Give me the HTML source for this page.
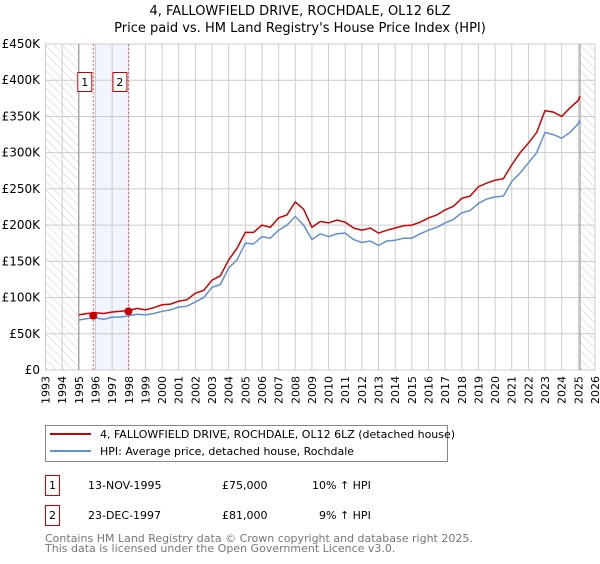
<!DOCTYPE html>
<html><head><meta charset="utf-8"><style>
body{margin:0;background:#fff;font-family:"DejaVu Sans","Liberation Sans",sans-serif;}
svg text{font-family:"DejaVu Sans","Liberation Sans",sans-serif;}
</style></head><body>
<svg id="c" width="600" height="560" viewBox="0 0 600 560" xmlns="http://www.w3.org/2000/svg">
<defs><pattern id="hatch" width="6" height="6" patternUnits="userSpaceOnUse" patternTransform="rotate(-45)"><line x1="0" y1="0" x2="0" y2="6" stroke="#ccc" stroke-width="1"/></pattern></defs>
<text x="300" y="15" text-anchor="middle" font-size="13">4, FALLOWFIELD DRIVE, ROCHDALE, OL12 6LZ</text>
<text x="300" y="32" text-anchor="middle" font-size="13">Price paid vs. HM Land Registry's House Price Index (HPI)</text>
<g id="grid"></g><g id="series"></g><g id="axes"></g>
<g>
<rect x="45.5" y="425.5" width="402" height="36" fill="#fff" stroke="#888"/>
<line x1="50" y1="434" x2="91" y2="434" stroke="#cc0000" stroke-width="2"/>
<text x="100" y="438" font-size="11">4, FALLOWFIELD DRIVE, ROCHDALE, OL12 6LZ (detached house)</text>
<line x1="50" y1="451" x2="91" y2="451" stroke="#6090d0" stroke-width="2"/>
<text x="100" y="455" font-size="11">HPI: Average price, detached house, Rochdale</text>
</g>
<g font-size="11">
<rect x="45.5" y="475.5" width="14" height="20" fill="#fff" stroke="#cc0000"/><text x="52.5" y="489" text-anchor="middle">1</text>
<text x="88" y="489">13-NOV-1995</text><text x="222" y="489">£75,000</text><text x="312" y="489">10% ↑ HPI</text>
<rect x="45.5" y="505.5" width="14" height="20" fill="#fff" stroke="#cc0000"/><text x="52.5" y="519" text-anchor="middle">2</text>
<text x="88" y="519">23-DEC-1997</text><text x="222" y="519">£81,000</text><text x="319" y="519">9% ↑ HPI</text>
</g>
<text x="45" y="542" font-size="11" fill="#777">Contains HM Land Registry data © Crown copyright and database right 2025.</text>
<text x="45" y="552" font-size="11" fill="#777">This data is licensed under the Open Government Licence v3.0.</text>
</svg>
<script>
const hpiYears=[1995,1995.5,1996,1996.5,1997,1997.5,1998,1998.5,1999,1999.5,2000,2000.5,2001,2001.5,2002,2002.5,2003,2003.5,2004,2004.5,2005,2005.5,2006,2006.5,2007,2007.5,2008,2008.5,2009,2009.5,2010,2010.5,2011,2011.5,2012,2012.5,2013,2013.5,2014,2014.5,2015,2015.5,2016,2016.5,2017,2017.5,2018,2018.5,2019,2019.5,2020,2020.5,2021,2021.5,2022,2022.5,2023,2023.5,2024,2024.5,2025,2025.1];
const hpiValues=[69,71,72,70,73,73,75,77,76,78,81,83,87,88,94,100,114,118,141,152,175,174,184,182,193,200,212,200,180,188,184,188,189,180,176,178,172,178,179,182,182,188,193,197,203,208,217,220,230,236,239,240,260,272,286,300,328,325,320,328,340,345];
const priceValues=[76,78,79,78,80,81,82,85,83,86,90,91,95,97,106,110,124,130,152,168,190,190,200,197,210,214,232,222,197,205,203,207,204,196,193,196,189,193,196,199,200,204,210,214,221,226,237,240,253,258,262,264,283,300,313,328,358,356,350,362,372,378];
const saleDates=[1995.87,1997.98];
const salePrices=[75,81];
const yTicks=[0,50,100,150,200,250,300,350,400,450];
const yTickLabels=["£0","£50K","£100K","£150K","£200K","£250K","£300K","£350K","£400K","£450K"];
const ns="http://www.w3.org/2000/svg";
const X=y=>45.5+(y-1993)*(549.5/33), Y=v=>370-v*(326/450);
function mk(p,t,a){const e=document.createElementNS(ns,t);for(const k in a)e.setAttribute(k,a[k]);p.appendChild(e);return e;}
const g=document.getElementById('grid'),s=document.getElementById('series'),ax=document.getElementById('axes');
let r=mk(g,'rect',{x:X(1993),y:Y(450),width:X(1995)-X(1993),height:Y(0)-Y(450),fill:'url(#hatch)'});


r=mk(g,'rect',{x:X(2025.1),y:Y(450),width:X(2026)-X(2025.1),height:Y(0)-Y(450),fill:'url(#hatch)'});


r=mk(g,'rect',{x:X(saleDates[0]),y:Y(450),width:X(saleDates[1])-X(saleDates[0]),height:Y(0)-Y(450),fill:'#eef3fc',opacity:0.8});


for(let yr=1993;yr<=2026;yr++){
  const l=mk(g,'line',{x1:X(yr),x2:X(yr),y1:Y(450),y2:Y(0),stroke:'#ccc'});
  
  
  const t=mk(ax,'text',{x:X(yr)+4,y:376,'font-size':11,transform:`rotate(-90 ${X(yr)+4} 376)`,'text-anchor':'end'});
  t.textContent=yr;
  
  
}
yTicks.forEach((v,i)=>{
  const l=mk(g,'line',{x1:X(1993),x2:X(2026),y1:Y(v),y2:Y(v),stroke:'#ccc'});
  
  
  const t=mk(ax,'text',{x:40,y:Y(v)+4,'font-size':12,'text-anchor':'end'});
  t.textContent=yTickLabels[i];
  
  
});
[1995,2025.1].forEach(d=>{const l=mk(g,'line',{x1:X(d),x2:X(d),y1:Y(450),y2:Y(0),stroke:'#888'});

});
saleDates.forEach((d,i)=>{
  const l=mk(g,'line',{x1:X(d),x2:X(d),y1:Y(450),y2:Y(0),stroke:'#f06060','stroke-dasharray':'2,2'});
  
  
  const b=mk(ax,'rect',{x:X(d)-15.5,y:72.5,width:14,height:19,fill:'#fff',stroke:'#cc0000'});
  
  
  const t=mk(ax,'text',{x:X(d)-8.5,y:86,'font-size':11,'text-anchor':'middle'});
  t.textContent=i+1;
  
  
});
const pts=a=>hpiYears.map((y,i)=>X(y).toFixed(1)+','+Y(a[i]).toFixed(1)).join(' ');
let p=mk(s,'polyline',{points:pts(hpiValues),fill:'none',stroke:'#6090d0','stroke-width':1.5});


p=mk(s,'polyline',{points:pts(priceValues),fill:'none',stroke:'#cc0000','stroke-width':1.5});


saleDates.forEach((d,i)=>{const c=mk(s,'circle',{cx:X(d),cy:Y(salePrices[i]),r:4,fill:'#cc0000'});

});
</script>
</body></html>
